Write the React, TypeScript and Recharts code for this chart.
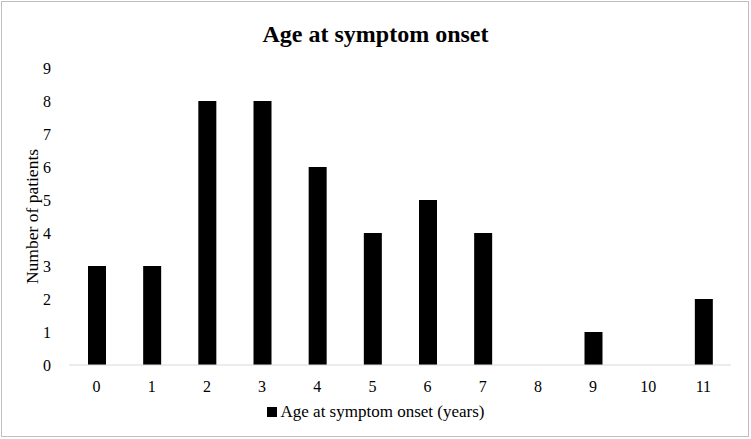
import React from "react";
import { BarChart, Bar, XAxis, YAxis, Legend } from "recharts";

const ages = ["0", "1", "2", "3", "4", "5", "6", "7", "8", "9", "10", "11"];
const patients = [3, 3, 8, 8, 6, 4, 5, 4, 0, 1, 0, 2];
const yTicks = [0, 1, 2, 3, 4, 5, 6, 7, 8, 9];

const data = ages.map((age, i) => ({ age, patients: patients[i] }));

const FONT = "'Liberation Serif', 'Times New Roman', serif";

const LegendContent = () => (
  <div
    style={{
      display: "flex",
      justifyContent: "center",
      alignItems: "center",
      fontFamily: FONT,
      fontSize: 17,
      color: "#000",
    }}
  >
    <span
      style={{
        display: "inline-block",
        width: 10,
        height: 10,
        background: "#000",
        marginRight: 4,
      }}
    />
    <span>Age at symptom onset (years)</span>
  </div>
);

export default function App() {
  return (
    <div style={{ position: "absolute", left: 0, top: 0, width: 751, height: 439, background: "#fff" }}>
      <BarChart
        width={751}
        height={439}
        data={data}
        margin={{ top: 68, right: 20, bottom: 44, left: 20 }}
        barCategoryGap={0}
      >
        <rect x={1.5} y={1.5} width={747} height={435} fill="none" stroke="#bfbfbf" strokeWidth={1} />
        <text
          x={375.5}
          y={42}
          textAnchor="middle"
          fontFamily={FONT}
          fontSize={24}
          fontWeight="bold"
          fill="#000"
        >
          Age at symptom onset
        </text>
        <XAxis
          dataKey="age"
          tickLine={false}
          axisLine={{ stroke: "#d9d9d9", strokeWidth: 1 }}
          tick={{ fontFamily: FONT, fontSize: 16, fill: "#000" }}
          tickMargin={10}
          height={30}
        />
        <YAxis
          domain={[0, 9]}
          ticks={yTicks}
          interval={0}
          tickLine={false}
          axisLine={false}
          width={49}
          tick={{ fontFamily: FONT, fontSize: 16, fill: "#000" }}
          tickMargin={12}
          label={{
            value: "Number of patients",
            angle: -90,
            position: "insideLeft",
            dx: 7,
            style: { fontFamily: FONT, fontSize: 17.5, fill: "#000", textAnchor: "middle" },
          }}
        />
        <Legend
          layout="horizontal"
          verticalAlign="middle"
          align="center"
          wrapperStyle={{ left: 0, top: 402, width: 751 }}
          content={<LegendContent />}
        />
        <Bar dataKey="patients" fill="#000" barSize={18} isAnimationActive={false} />
      </BarChart>
    </div>
  );
}
